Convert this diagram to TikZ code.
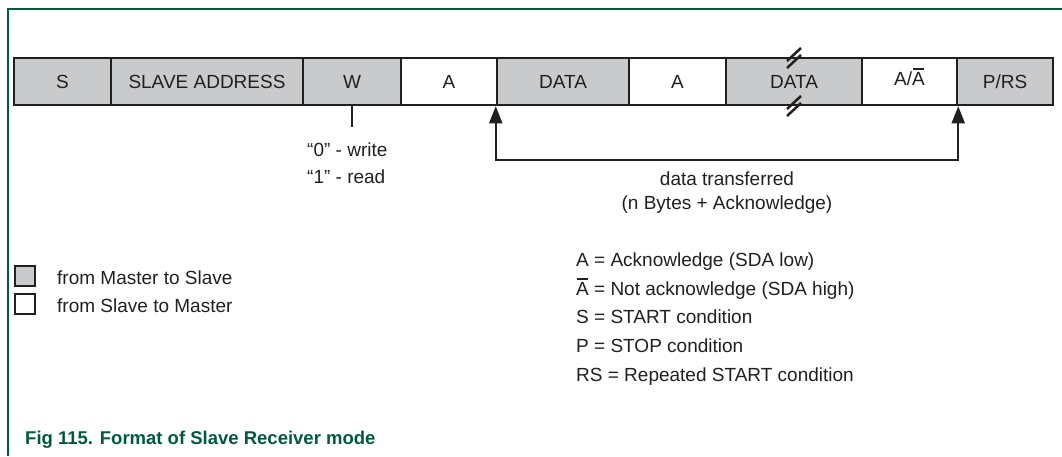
\documentclass[tikz,border=0pt]{standalone}
\usepackage{fontspec}
\setmainfont{Liberation Sans}
\usetikzlibrary{arrows.meta}
\definecolor{gfill}{HTML}{C9CACC}
\definecolor{ink}{HTML}{231F20}
\definecolor{nxpgreen}{HTML}{005A42}
\newcommand\abar{\ooalign{A\cr\hidewidth\rule[15.5pt]{11pt}{1.8pt}\hidewidth\cr}}
\begin{document}
\begin{tikzpicture}[x=1pt,y=-1pt,
  txt/.style={font=\fontsize{19}{22}\selectfont, text=ink, inner sep=0pt},
  field/.style={draw=ink, line width=2.5pt, minimum height=47pt, inner sep=0pt,
    text height=13.6pt, text depth=0pt, font=\fontsize{19}{22}\selectfont, text=ink},
  mfield/.style={field, fill=gfill},
  sfield/.style={field, fill=white},
  conn/.style={draw=ink, line width=2pt},
  tick/.style={draw=ink, line width=2.5pt},
  legbox/.style={draw=ink, line width=2.5pt, minimum size=20pt, inner sep=0pt},
  tip/.tip={Triangle[length=17pt,width=13pt]}]
\useasboundingbox (0,0) rectangle (1062,456);
% frame
\draw[draw=nxpgreen, line width=2pt] (1062,9) -- (8,9) -- (8,456);
% fields
\node[mfield, minimum width=97pt]  (s)   at (62.5,81.5)  {S};
\node[mfield, minimum width=192pt] (sa)  at (207,81.5)   {SLAVE ADDRESS};
\node[mfield, minimum width=98pt]  (w)   at (352,81.5)   {W};
\node[sfield, minimum width=96pt]  (a1)  at (449,81.5)   {A};
\node[mfield, minimum width=132pt] (d1)  at (563,81.5)   {DATA};
\node[sfield, minimum width=97pt]  (a2)  at (677.5,81.5) {A};
\node[mfield, minimum width=136pt] (d2)  at (794,81.5)   {DATA};
\node[sfield, minimum width=95pt]  (aa)  at (909.5,81.5) {\raisebox{3pt}{A/\abar}};
\node[mfield, minimum width=96pt]  (prs) at (1005,81.5)  {P/RS};
% break marks
\draw[tick] (787,61) -- (801,48) (787,68) -- (801,55);
\draw[tick] (787,109) -- (801,96) (787,116) -- (801,103);
% W tick
\coordinate (wt) at ([yshift=-21pt]w.south);
\draw[tick] (w.south) -- (wt);
\node[txt, anchor=base west] (rw0) at (307,156) {“0” - write};
\node[txt, anchor=base west] (rw1) at (307,183) {“1” - read};
% data transferred arrow
\path (d1.south west) ++(0,54) coordinate (c1);
\path (aa.south east) ++(0,54) coordinate (c2);
\draw[conn, tip-tip] (d1.south west) -- (c1) -- (c2) -- (aa.south east);
\node[txt, anchor=base] (dt1) at (727,185) {data transferred};
\node[txt, anchor=base] (dt2) at (727,209) {(n Bytes + Acknowledge)};
% legend
\node[legbox, fill=gfill] (lg1) at (25,276) {};
\node[legbox, fill=white] (lg2) at (25,304) {};
\node[txt, anchor=base west] (lt1) at (57,284) {from Master to Slave};
\node[txt, anchor=base west] (lt2) at (57,312) {from Slave to Master};
\node[txt, anchor=base west] (k1) at (576,266) {A = Acknowledge (SDA low)};
\node[txt, anchor=base west] (k2) at (576,295) {\abar{} = Not acknowledge (SDA high)};
\node[txt, anchor=base west] (k3) at (576,323) {S = START condition};
\node[txt, anchor=base west] (k4) at (576,352) {P = STOP condition};
\node[txt, anchor=base west] (k5) at (576,381) {RS = Repeated START condition};
% caption
\node[anchor=base west, inner sep=0pt, font=\fontsize{18.5}{22}\selectfont\bfseries, text=nxpgreen] (cap) at (25,444) {Fig 115. Format of Slave Receiver mode};
\end{tikzpicture}
\end{document}
